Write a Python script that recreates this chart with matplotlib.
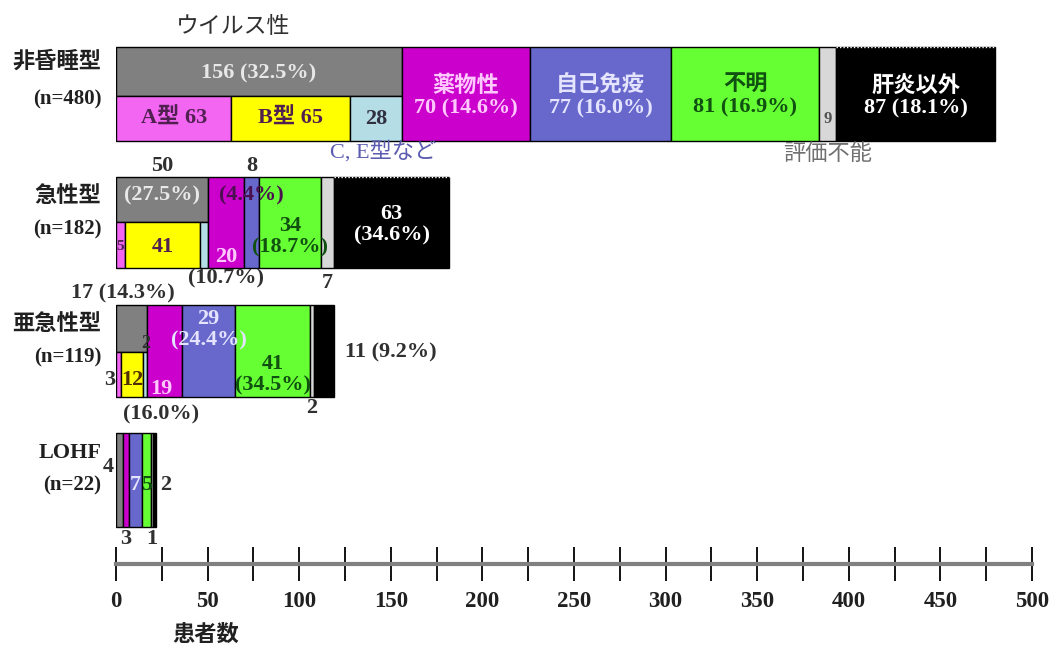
import numpy as np
import matplotlib
import matplotlib.pyplot as plt

matplotlib.use("Agg")

FONT = ["Liberation Serif", "Noto Sans CJK JP"]
plt.rcParams["font.family"] = FONT
plt.rcParams["font.weight"] = "bold"

# groups (rows, top to bottom)
groups = ["非昏睡型", "急性型", "亜急性型", "LOHF"]
group_n = ["(n=480)", "(n=182)", "(n=119)", "(n=22)"]

# patients per cause
virus = [156, 50, 17, 4]
drug = [70, 20, 19, 3]
autoimmune = [77, 8, 29, 7]
unknown = [81, 34, 41, 5]
unevaluable = [9, 7, 2, 1]
non_hepatitis = [87, 63, 11, 2]

# virus breakdown (LOHF has none)
hav = [63, 5, 3]
hbv = [65, 41, 12]
other_virus = [28, 4, 2]

pct_virus = [32.5, 27.5, 14.3]
pct_drug = [14.6, 10.7, 16.0]
pct_auto = [16.0, 4.4, 24.4]
pct_unknown = [16.9, 18.7, 34.5]
pct_non_hep = [18.1, 34.6, 9.2]

major_ticks = np.arange(0, 501, 50)
minor_ticks = np.arange(25, 500, 50)

cat_colors = ["#808080", "#cc00cc", "#6868cc", "#66ff33", "#d8d8d8", "#000000"]
sub_colors = ["#f266f2", "#ffff00", "#b4dde6"]

# row geometry in pixel rows (y axis runs top -> bottom)
row_top = [47, 177, 305, 433]
row_bot = [141, 268, 397, 527]
row_split = [96, 222, 352, None]

fig = plt.figure(figsize=(10.53, 6.45), dpi=100)
ax = fig.add_axes([116 / 1053, 0, 916 / 1053, 1])
ax.set_xlim(0, 500)
ax.set_ylim(645, 0)

data = np.array([virus, drug, autoimmune, unknown, unevaluable, non_hepatitis]).T
lefts = np.cumsum(data, axis=1) - data
mids = lefts + data / 2
sub = np.array([hav, hbv, other_virus]).T
sub_lefts = np.cumsum(sub, axis=1) - sub
sub_mids = sub_lefts + sub / 2

for i in range(len(groups)):
    top, bot, split = row_top[i], row_bot[i], row_split[i]
    for k in range(data.shape[1]):
        if k == 0 and split is not None:
            ax.barh((top + split) / 2, data[i, k], height=split - top, left=lefts[i, k],
                    color=cat_colors[k], edgecolor="black", linewidth=1)
            ax.barh((split + bot) / 2, sub[i], height=bot - split, left=sub_lefts[i],
                    color=sub_colors, edgecolor="black", linewidth=1)
        else:
            ax.barh((top + bot) / 2, data[i, k], height=bot - top, left=lefts[i, k],
                    color=cat_colors[k], edgecolor="black", linewidth=1)
    # dotted light top edge on the black block
    if i < 2:
        ax.plot([lefts[i, 5], lefts[i, 5] + data[i, 5]], [top, top], color="white",
                linestyle=(0, (1, 1.5)), linewidth=1)
    ax.text(-8, (top + bot) / 2 - 32 if i == 0 else top + 20, groups[i],
            ha="right", va="center", fontsize=16, color="#202020")
    ax.text(-8, top + 52, group_n[i], ha="right", va="center", fontsize=15, color="#202020")

LIGHT = "#e8e8e8"
PINK = "#ffc8ff"
LAV = "#e4e4ff"
GREEN = "#105010"
DARK = "#303030"
PURP = "#502050"


def txt(x, y, s, color=DARK, size=16, **kw):
    ax.text(x, y, s, ha=kw.pop("ha", "center"), va="center", fontsize=size,
            color=color, linespacing=1.1, **kw)


# 非昏睡型
t, b = row_top[0], row_bot[0]
txt(mids[0, 0], (t + row_split[0]) / 2 + 2, f"{virus[0]} ({pct_virus[0]}%)", LIGHT)
txt(sub_mids[0, 0], (row_split[0] + b) / 2, f"A型 {hav[0]}", PURP)
txt(sub_mids[0, 1], (row_split[0] + b) / 2, f"B型 {hbv[0]}", PURP)
txt(sub_mids[0, 2], (row_split[0] + b) / 2, f"{other_virus[0]}", "#303040")
txt(sub_mids[0, 2] + 4, b + 11, "C, E型など", "#5b5bb0", fontweight="normal")
txt(mids[0, 1], (t + b) / 2 + 3, f"薬物性\n{drug[0]} ({pct_drug[0]}%)", PINK)
txt(mids[0, 2], (t + b) / 2 + 3, f"自己免疫\n{autoimmune[0]} ({pct_auto[0]}%)", LAV)
txt(mids[0, 3], (t + b) / 2 + 3, f"不明\n{unknown[0]} ({pct_unknown[0]}%)", GREEN)
txt(mids[0, 4], (t + b) / 2 + 25, f"{unevaluable[0]}", "#505050", size=12)
txt(mids[0, 4], b + 14, "評価不能", "#707070", fontweight="normal")
txt(mids[0, 5], (t + b) / 2 + 3, f"肝炎以外\n{non_hepatitis[0]} ({pct_non_hep[0]}%)", "white")

# 急性型
t, b = row_top[1], row_bot[1]
txt(mids[1, 0], t - 11, f"{virus[1]}")
txt(mids[1, 0], t + 18, f"({pct_virus[1]}%)", LIGHT)
txt(sub_mids[1, 0], (row_split[1] + b) / 2 + 2, f"{hav[1]}", PURP, size=11)
txt(sub_mids[1, 1], (row_split[1] + b) / 2 + 2, f"{hbv[1]}", PURP)
txt(mids[1, 1], b - 11, f"{drug[1]}", PINK)
txt(mids[1, 1], b + 10, f"({pct_drug[1]}%)")
txt(mids[1, 2], t - 11, f"{autoimmune[1]}")
txt(mids[1, 2], t + 18, f"({pct_auto[1]}%)", "#4a1050")
txt(mids[1, 3], 237, f"{unknown[1]}\n({pct_unknown[1]}%)", GREEN)
txt(mids[1, 4], b + 15, f"{unevaluable[1]}")
txt(mids[1, 5], 225, f"{non_hepatitis[1]}\n({pct_non_hep[1]}%)", "white")

# 亜急性型
t, b = row_top[2], row_bot[2]
txt(mids[2, 0] - 5, t - 12, f"{virus[2]} ({pct_virus[2]}%)")
txt(sub_mids[2, 2], 343, f"{other_virus[2]}", DARK, size=13)
txt(-3.5, 380, f"{hav[2]}")
txt(sub_mids[2, 1], 380, f"{hbv[2]}", "#503000")
txt(mids[2, 1] - 2, b - 8, f"{drug[2]}", PINK)
txt(mids[2, 1] - 2, b + 17, f"({pct_drug[2]}%)")
txt(mids[2, 2], 330, f"{autoimmune[2]}\n({pct_auto[2]}%)", LAV)
txt(mids[2, 3], 375, f"{unknown[2]}\n({pct_unknown[2]}%)", GREEN)
txt(mids[2, 4], b + 11, f"{unevaluable[2]}")
txt(lefts[2, 5] + data[2, 5] + 6, 352, f"{non_hepatitis[2]} ({pct_non_hep[2]}%)", ha="left")

# LOHF
t, b = row_top[3], row_bot[3]
txt(-4, 467, f"{virus[3]}")
txt(mids[3, 1], b + 12, f"{drug[3]}")
txt(mids[3, 2], 485, f"{autoimmune[3]}", LAV)
txt(mids[3, 3], 485, f"{unknown[3]}", GREEN)
txt(mids[3, 4], b + 12, f"{unevaluable[3]}")
txt(data[3].sum() + 5, 485, f"{non_hepatitis[3]}")

# header
txt(mids[0, 0] - 14, 27, "ウイルス性", "#303030", size=16.5, fontweight="normal")

# axis
for side in ["top", "left", "right"]:
    ax.spines[side].set_visible(False)
ax.spines["bottom"].set_position(("data", 564))
ax.spines["bottom"].set_color("#808080")
ax.spines["bottom"].set_linewidth(3)
ax.set_yticks([])
ax.set_xticks(major_ticks)
ax.set_xticks(minor_ticks, minor=True)
ax.tick_params(axis="x", which="both", direction="inout", length=25, width=1.3,
               color="black", pad=7, labelsize=16.5, labelcolor="#202020")
txt(49, 635, "患者数", "#202020", size=16)

fig.savefig("out.png", dpi=100)
